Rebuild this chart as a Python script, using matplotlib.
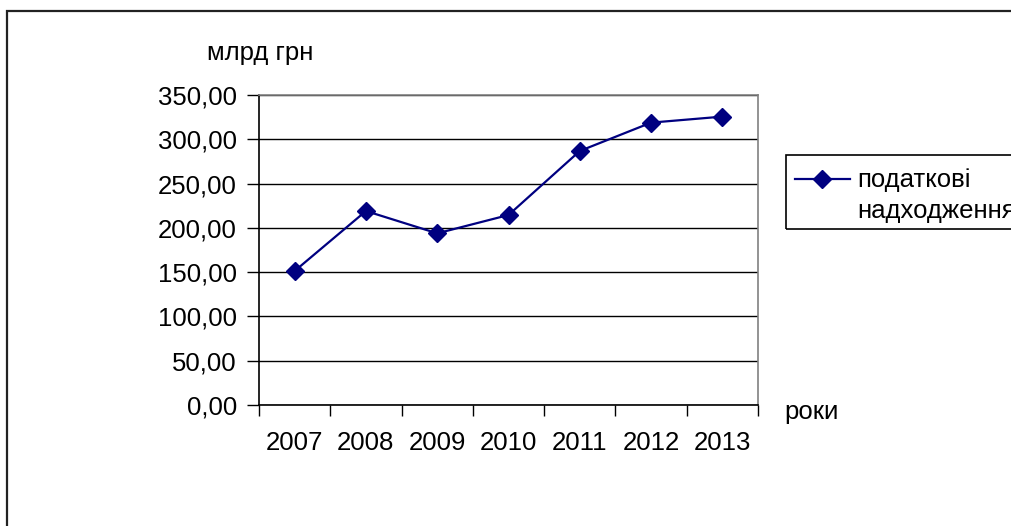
import matplotlib.pyplot as plt
from matplotlib.patches import Rectangle
from matplotlib.lines import Line2D

# data
years = ["2007", "2008", "2009", "2010", "2011", "2012", "2013"]
revenue = [151.3, 219.0, 193.8, 214.5, 286.8, 318.8, 325.6]
y_ticks = [0, 50, 100, 150, 200, 250, 300, 350]
series_name = ["податкові", "надходження"]

plt.rcParams["font.family"] = ["Liberation Sans", "DejaVu Sans"]
FS = 18.5
W, H = 1011, 526
NAVY = "#000080"

fig = plt.figure(figsize=(W / 100, H / 100), dpi=100)

def px(xp, yp):
    # pixel (from top-left) -> figure fraction
    return xp / W, 1 - yp / H

# outer chart frame (only left/top edges visible in the reference)
fig.patches.append(Rectangle((7 / W, -0.2), 1.5, (H - 11) / H + 0.2,
                             transform=fig.transFigure, fill=False,
                             ec="#222222", lw=1.6))

# plot area in pixel coords
left, right, top, bottom = 259, 758, 95, 405
ax = fig.add_axes([left / W, (H - bottom) / H, (right - left) / W, (bottom - top) / H])

x = [i + 0.5 for i in range(len(years))]
ax.plot(x, revenue, color=NAVY, lw=1.6, marker="D", markersize=9,
        markerfacecolor=NAVY, markeredgecolor=NAVY)

ax.set_xlim(0, len(years))
ax.set_ylim(0, 350)
ax.set_yticks(y_ticks)
ax.set_yticklabels([f"{v:.2f}".replace(".", ",") for v in y_ticks], fontsize=FS)
ax.yaxis.grid(True, color="black", lw=1)
ax.set_axisbelow(True)

ax.set_xticks(x)
ax.set_xticklabels(years, fontsize=FS)
ax.set_xticks(range(len(years) + 1), minor=True)
ax.tick_params(axis="x", which="major", length=0, pad=19)
ax.tick_params(axis="x", which="minor", length=8, width=1, color="black", direction="out")
ax.tick_params(axis="y", length=9, width=1, color="black", direction="out", pad=7)

for s in ["top", "right"]:
    ax.spines[s].set_color("#808080")
    ax.spines[s].set_linewidth(1.2)
for s in ["left", "bottom"]:
    ax.spines[s].set_color("black")
    ax.spines[s].set_linewidth(1.2)

# axis titles
fig.text(*px(207, 60), "млрд грн", fontsize=FS, va="baseline", ha="left")
fig.text(*px(784, 419), "роки", fontsize=FS, va="baseline", ha="left")

# legend, drawn by hand so it runs off the right edge like the reference
fig.patches.append(Rectangle(px(786, 229), 0.5, 74 / H, transform=fig.transFigure,
                             fill=False, ec="black", lw=1.2))
x0, y0 = px(795, 179)
x1, _ = px(850, 179)
fig.add_artist(Line2D([x0, x1], [y0, y0], transform=fig.transFigure,
                      color=NAVY, lw=1.6))
fig.add_artist(Line2D([px(822, 179)[0]], [y0], transform=fig.transFigure,
                      color=NAVY, marker="D", markersize=9, lw=0))
fig.text(*px(857, 187), series_name[0], fontsize=FS, va="baseline", ha="left")
fig.text(*px(857, 218), series_name[1], fontsize=FS, va="baseline", ha="left")

fig.savefig("out.png", dpi=100)
